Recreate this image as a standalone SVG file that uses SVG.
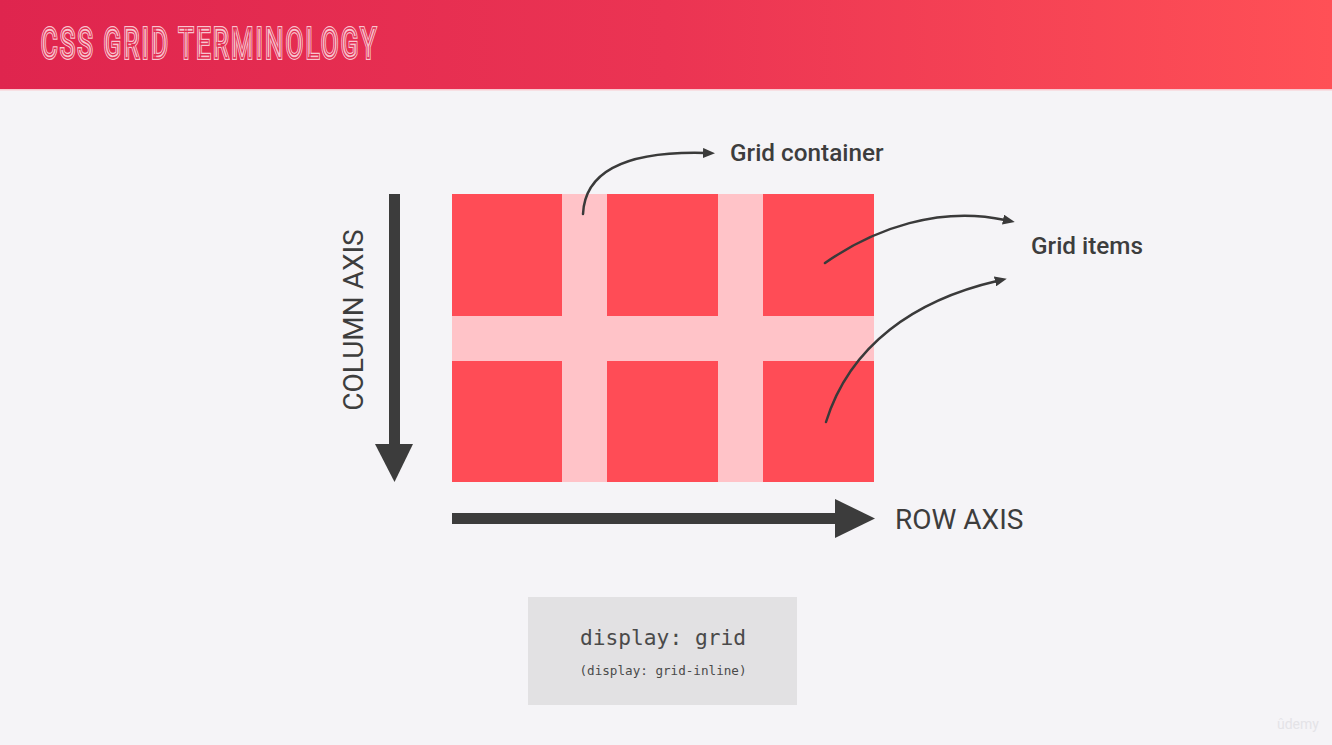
<svg xmlns="http://www.w3.org/2000/svg" width="1332" height="745" viewBox="0 0 1332 745">
  <defs>
    <linearGradient id="hdr" x1="0" y1="0" x2="1" y2="0">
      <stop offset="0" stop-color="#df254e"/>
      <stop offset="0.5" stop-color="#eb3453"/>
      <stop offset="1" stop-color="#ff5056"/>
    </linearGradient>
    <marker id="ah" viewBox="0 0 12 10" refX="2" refY="5" markerWidth="12" markerHeight="10" markerUnits="userSpaceOnUse" orient="auto">
      <path d="M0,0 L12,5 L0,10 Z" fill="#3a3a3a"/>
    </marker>
    <style>
      .cell { fill: #ff4c56; }
      .lbl { font-family: Roboto, "Liberation Sans", sans-serif; fill: #3d3d3d; }
      .conn { fill: none; stroke: #3a3a3a; stroke-width: 2.5; stroke-linecap: round; }
      .axis { fill: #3c3c3c; }
      .mono { font-family: "DejaVu Sans Mono", "Liberation Mono", monospace; fill: #4a4a4a; text-anchor: middle; }
      .title { font-family: Roboto, "Liberation Sans", sans-serif; font-size: 42px; fill: none; vector-effect: non-scaling-stroke; }
    </style>
  </defs>

  <rect x="0" y="0" width="1332" height="745" fill="#f5f4f7"/>

  <g id="header">
    <rect x="0" y="0" width="1332" height="89" fill="url(#hdr)"/>
    <rect x="0" y="89" width="1332" height="1.5" fill="#f9c9cf"/>
    <g transform="translate(41,58) scale(0.6,1)">
      <text class="title" x="0" y="0" textLength="558" lengthAdjust="spacing" stroke="#f8c4cf" stroke-width="3.2">CSS GRID TERMINOLOGY</text>
      <text class="title" x="0" y="0" textLength="558" lengthAdjust="spacing" stroke="#e42c50" stroke-width="1.1">CSS GRID TERMINOLOGY</text>
    </g>
  </g>

  <g id="grid-container">
    <rect x="452" y="194" width="422" height="288" fill="#ffc3c8"/>
    <rect class="cell" x="452" y="194" width="110" height="122"/>
    <rect class="cell" x="607" y="194" width="111" height="122"/>
    <rect class="cell" x="763" y="194" width="111" height="122"/>
    <rect class="cell" x="452" y="361" width="110" height="121"/>
    <rect class="cell" x="607" y="361" width="111" height="121"/>
    <rect class="cell" x="763" y="361" width="111" height="121"/>
  </g>

  <g id="column-axis">
    <rect class="axis" x="389" y="194" width="11" height="252"/>
    <polygon class="axis" points="375,444 413,444 394.5,482"/>
    <text class="lbl" font-size="28" text-anchor="middle" transform="translate(363,320) rotate(-90)">COLUMN AXIS</text>
  </g>

  <g id="row-axis">
    <rect class="axis" x="452" y="513" width="385" height="11"/>
    <polygon class="axis" points="835,499 835,538 875,518.5"/>
    <text class="lbl" x="895" y="529" font-size="28">ROW AXIS</text>
  </g>

  <g id="label-grid-container">
    <text class="lbl" x="730" y="161" font-size="24.3" font-weight="500">Grid container</text>
  </g>

  <g id="label-grid-items">
    <text class="lbl" x="1031" y="254" font-size="24.3" font-weight="500">Grid items</text>
  </g>

  <g id="connectors">
    <path class="conn" d="M583,214 C585,172 625,151 705,153" marker-end="url(#ah)"/>
    <path class="conn" d="M825,263 C875,228 940,206 1005,220" marker-end="url(#ah)"/>
    <path class="conn" d="M826,422 C850,345 915,300 997,281" marker-end="url(#ah)"/>
  </g>

  <g id="code-box">
    <rect x="528" y="597" width="269" height="108" fill="#e2e1e3"/>
    <text class="mono" x="663" y="645" font-size="21" textLength="166" lengthAdjust="spacingAndGlyphs">display: grid</text>
    <text class="mono" x="663" y="675" font-size="12.6" textLength="167" lengthAdjust="spacingAndGlyphs">(display: grid-inline)</text>
  </g>

  <g id="watermark">
    <text x="1277" y="729" font-family="Roboto, 'Liberation Sans', sans-serif" font-size="14" fill="#e4e3e7">ûdemy</text>
  </g>
</svg>
